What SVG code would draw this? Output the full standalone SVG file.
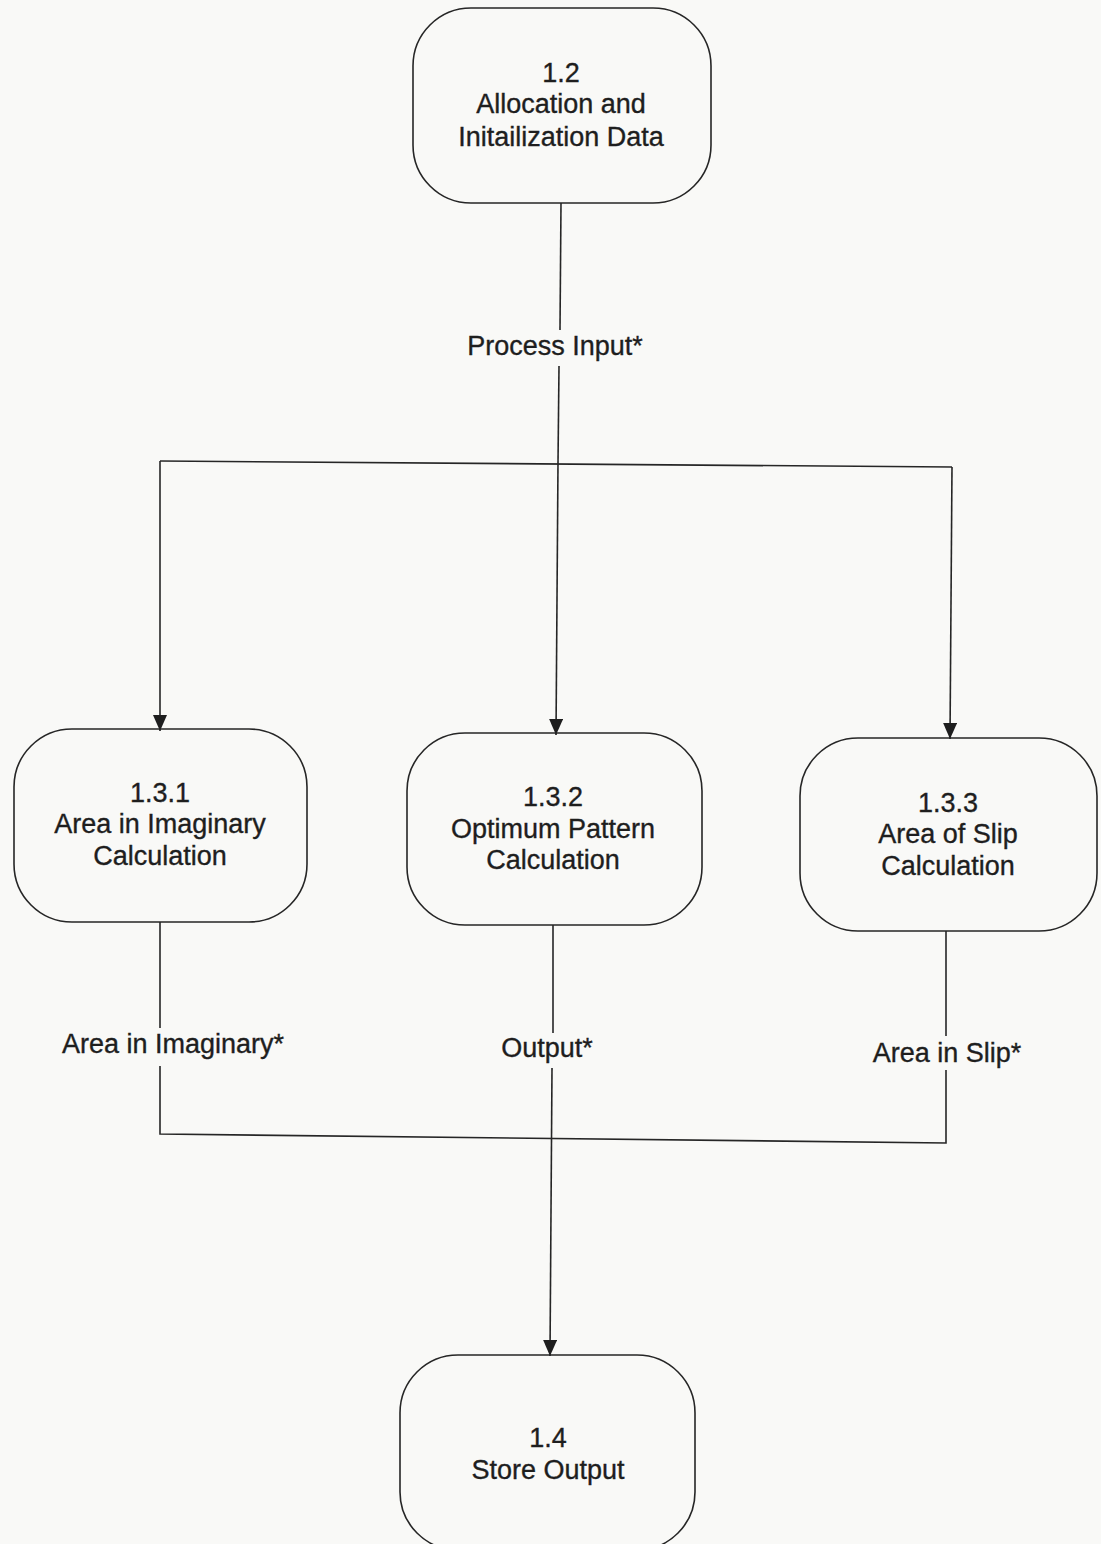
<svg xmlns="http://www.w3.org/2000/svg" width="1101" height="1544" viewBox="0 0 1101 1544">
  <style>
    .box { fill: none; stroke: #262626; stroke-width: 1.6; }
    .wire { fill: none; stroke: #262626; stroke-width: 1.6; }
    .t { font-family: "Liberation Sans", Arial, sans-serif; font-size: 27px; fill: #1e1e1e; stroke: #1e1e1e; stroke-width: 0.35; text-anchor: middle; }
  </style>
  <defs>
    <marker id="arrow" viewBox="0 0 16 14" refX="16" refY="7" markerWidth="16" markerHeight="14" markerUnits="userSpaceOnUse" orient="auto">
      <path d="M0,0 L16,7 L0,14 Z" fill="#1e1e1e"/>
    </marker>
  </defs>
  <rect width="1101" height="1544" fill="#f9f9f7"/>

  <!-- connectors -->
  <g id="connectors">
    <!-- 1.2 down to the split -->
    <path class="wire" d="M561,203 L560,330"/>
    <path class="wire" d="M559,366 L558,463"/>
    <!-- split rail -->
    <path class="wire" d="M160,461 L952,467"/>
    <path class="wire" d="M160,461 L160,731" marker-end="url(#arrow)"/>
    <path class="wire" d="M558,463 L556,735" marker-end="url(#arrow)"/>
    <path class="wire" d="M952,467 L950,739" marker-end="url(#arrow)"/>
    <!-- outputs of the three calculations -->
    <path class="wire" d="M160,922 L160,1028"/>
    <path class="wire" d="M160,1066 L160,1134 L946,1143 L946,1070"/>
    <path class="wire" d="M946,931 L946,1036"/>
    <path class="wire" d="M553,925 L553,1033"/>
    <path class="wire" d="M552,1068 L550,1356" marker-end="url(#arrow)"/>
  </g>

  <!-- connector labels -->
  <g id="labels">
    <text class="t" x="555" y="355">Process Input*</text>
    <text class="t" x="173" y="1053">Area in Imaginary*</text>
    <text class="t" x="547" y="1057">Output*</text>
    <text class="t" x="947" y="1062">Area in Slip*</text>
  </g>

  <g id="node-1-2">
    <rect class="box" x="413" y="8" width="298" height="195" rx="58" ry="58"/>
    <text class="t" x="561" y="82">1.2</text>
    <text class="t" x="561" y="113">Allocation and</text>
    <text class="t" x="561" y="146">Initailization Data</text>
  </g>

  <g id="node-1-3-1">
    <rect class="box" x="14" y="729" width="293" height="193" rx="58" ry="58"/>
    <text class="t" x="160" y="802">1.3.1</text>
    <text class="t" x="160" y="833">Area in Imaginary</text>
    <text class="t" x="160" y="865">Calculation</text>
  </g>

  <g id="node-1-3-2">
    <rect class="box" x="407" y="733" width="295" height="192" rx="58" ry="58"/>
    <text class="t" x="553" y="806">1.3.2</text>
    <text class="t" x="553" y="838">Optimum Pattern</text>
    <text class="t" x="553" y="869">Calculation</text>
  </g>

  <g id="node-1-3-3">
    <rect class="box" x="800" y="738" width="297" height="193" rx="58" ry="58"/>
    <text class="t" x="948" y="812">1.3.3</text>
    <text class="t" x="948" y="843">Area of Slip</text>
    <text class="t" x="948" y="875">Calculation</text>
  </g>

  <g id="node-1-4">
    <rect class="box" x="400" y="1355" width="295" height="195" rx="58" ry="58"/>
    <text class="t" x="548" y="1447">1.4</text>
    <text class="t" x="548" y="1479">Store Output</text>
  </g>
</svg>
